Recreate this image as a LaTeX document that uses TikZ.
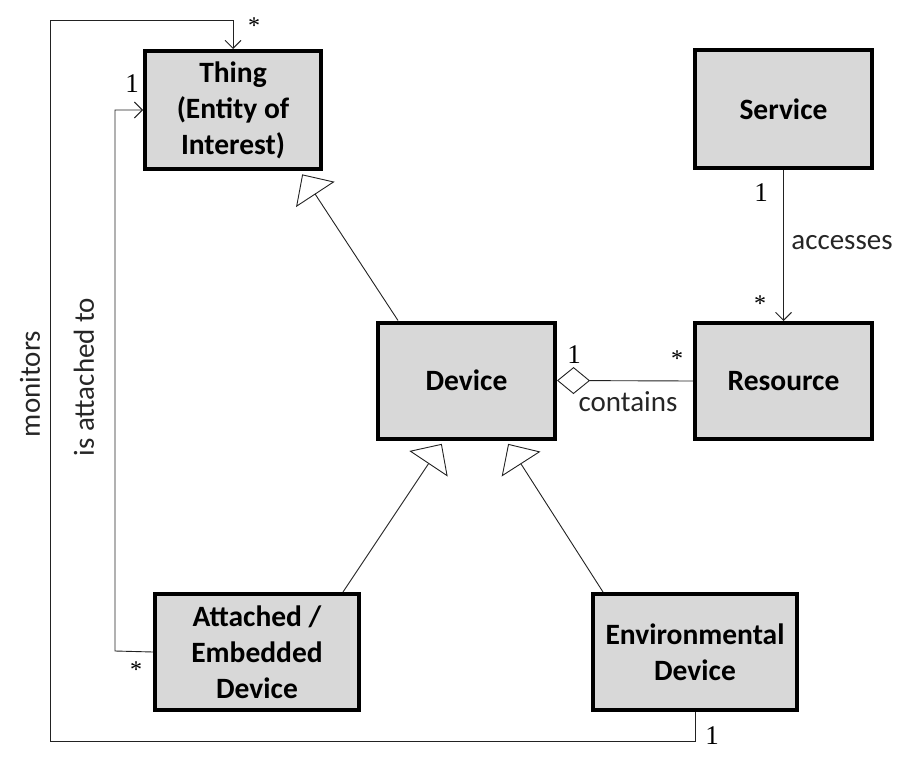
\documentclass[tikz,border=0pt]{standalone}
\usepackage{fontspec}
\setmainfont{Carlito}
\newfontfamily\multfont{Liberation Serif}
\usetikzlibrary{arrows.meta,calc}
\definecolor{boxgray}{HTML}{D8D8D8}
\definecolor{linegray}{HTML}{222222}
\tikzset{
  classbox/.style={draw=black, line width=4pt, fill=boxgray, inner sep=0pt,
    align=center, font=\fontsize{29.5}{36}\selectfont\bfseries},
  conn/.style={draw=linegray, line width=0.9pt},
  gen/.style={conn, -{Triangle[open, length=24pt, width=46pt, line width=0.9pt]}, shorten >=4pt},
  assoc/.style={conn, -{Straight Barb[length=8pt, width=16pt, line width=0.9pt]}},
  aggr/.style={conn, -{Diamond[open, length=33pt, width=27pt, line width=0.9pt]}},
  lbl/.style={font=\fontsize{29}{34}\selectfont, text=black!85, inner sep=0pt},
  mult/.style={font=\multfont\fontsize{27}{30}\selectfont, inner sep=0pt},
  star/.style={font=\multfont\fontsize{24}{28}\selectfont, inner sep=0pt}
}
\begin{document}
\begin{tikzpicture}[x=1pt,y=-1pt]
\useasboundingbox (0,0) rectangle (917,762);
% classes
\node[classbox, minimum width=176pt, minimum height=118pt] (thing) at (233,110) {Thing\\(Entity of\\Interest)};
\node[classbox, minimum width=177pt, minimum height=118pt] (service) at (783.5,109) {Service};
\node[classbox, minimum width=177pt, minimum height=116pt] (device) at (466.5,380.5) {Device};
\node[classbox, minimum width=177pt, minimum height=116pt] (resource) at (783.5,381) {Resource};
\node[classbox, minimum width=204pt, minimum height=116pt] (attached) at (257,652) {Attached /\\Embedded\\Device};
\node[classbox, minimum width=204pt, minimum height=116pt] (env) at (695,652) {Environmental\\Device};
% generalizations
\draw[gen] ($(device.north west)+(22,0)$) -- ($(thing.south west)+(157,0)$);
\draw[gen] ($(attached.north west)+(190,0)$) -- ($(device.south west)+(68,0)$);
\draw[gen] ($(env.north west)+(12,0)$) -- ($(device.south west)+(130,0)$);
% contains
\draw[aggr] (resource.west) -- (device.east);
\node[mult] (c1) at (574,355) {1};
\node[star] (c2) at (677,359) {*};
\node[lbl] (cl) at (628,402) {contains};
% accesses
\draw[assoc] (service.south) -- (resource.north);
\node[mult] (a1) at (761,193) {1};
\node[star] (a2) at (760,304) {*};
\node[lbl] (al) at (842,243) {accesses};
% is attached to
\coordinate (ia) at (115,651);
\draw[assoc] (attached.west) -- (ia) |- (thing.west);
\node[mult] (i1) at (132,84) {1};
\node[star] (i2) at (136,670) {*};
\node[lbl, rotate=90] (il) at (84,377) {is attached to};
% monitors
\coordinate (m1) at (50,741);
\coordinate (m2) at (50,20);
\draw[assoc] (env.south) |- (m1) -- (m2) -| (thing.north);
\node[star] (mo2) at (254,26) {*};
\node[mult] (mo1) at (712,736) {1};
\node[lbl, rotate=90] (ml) at (30,384) {monitors};
\end{tikzpicture}
\end{document}
